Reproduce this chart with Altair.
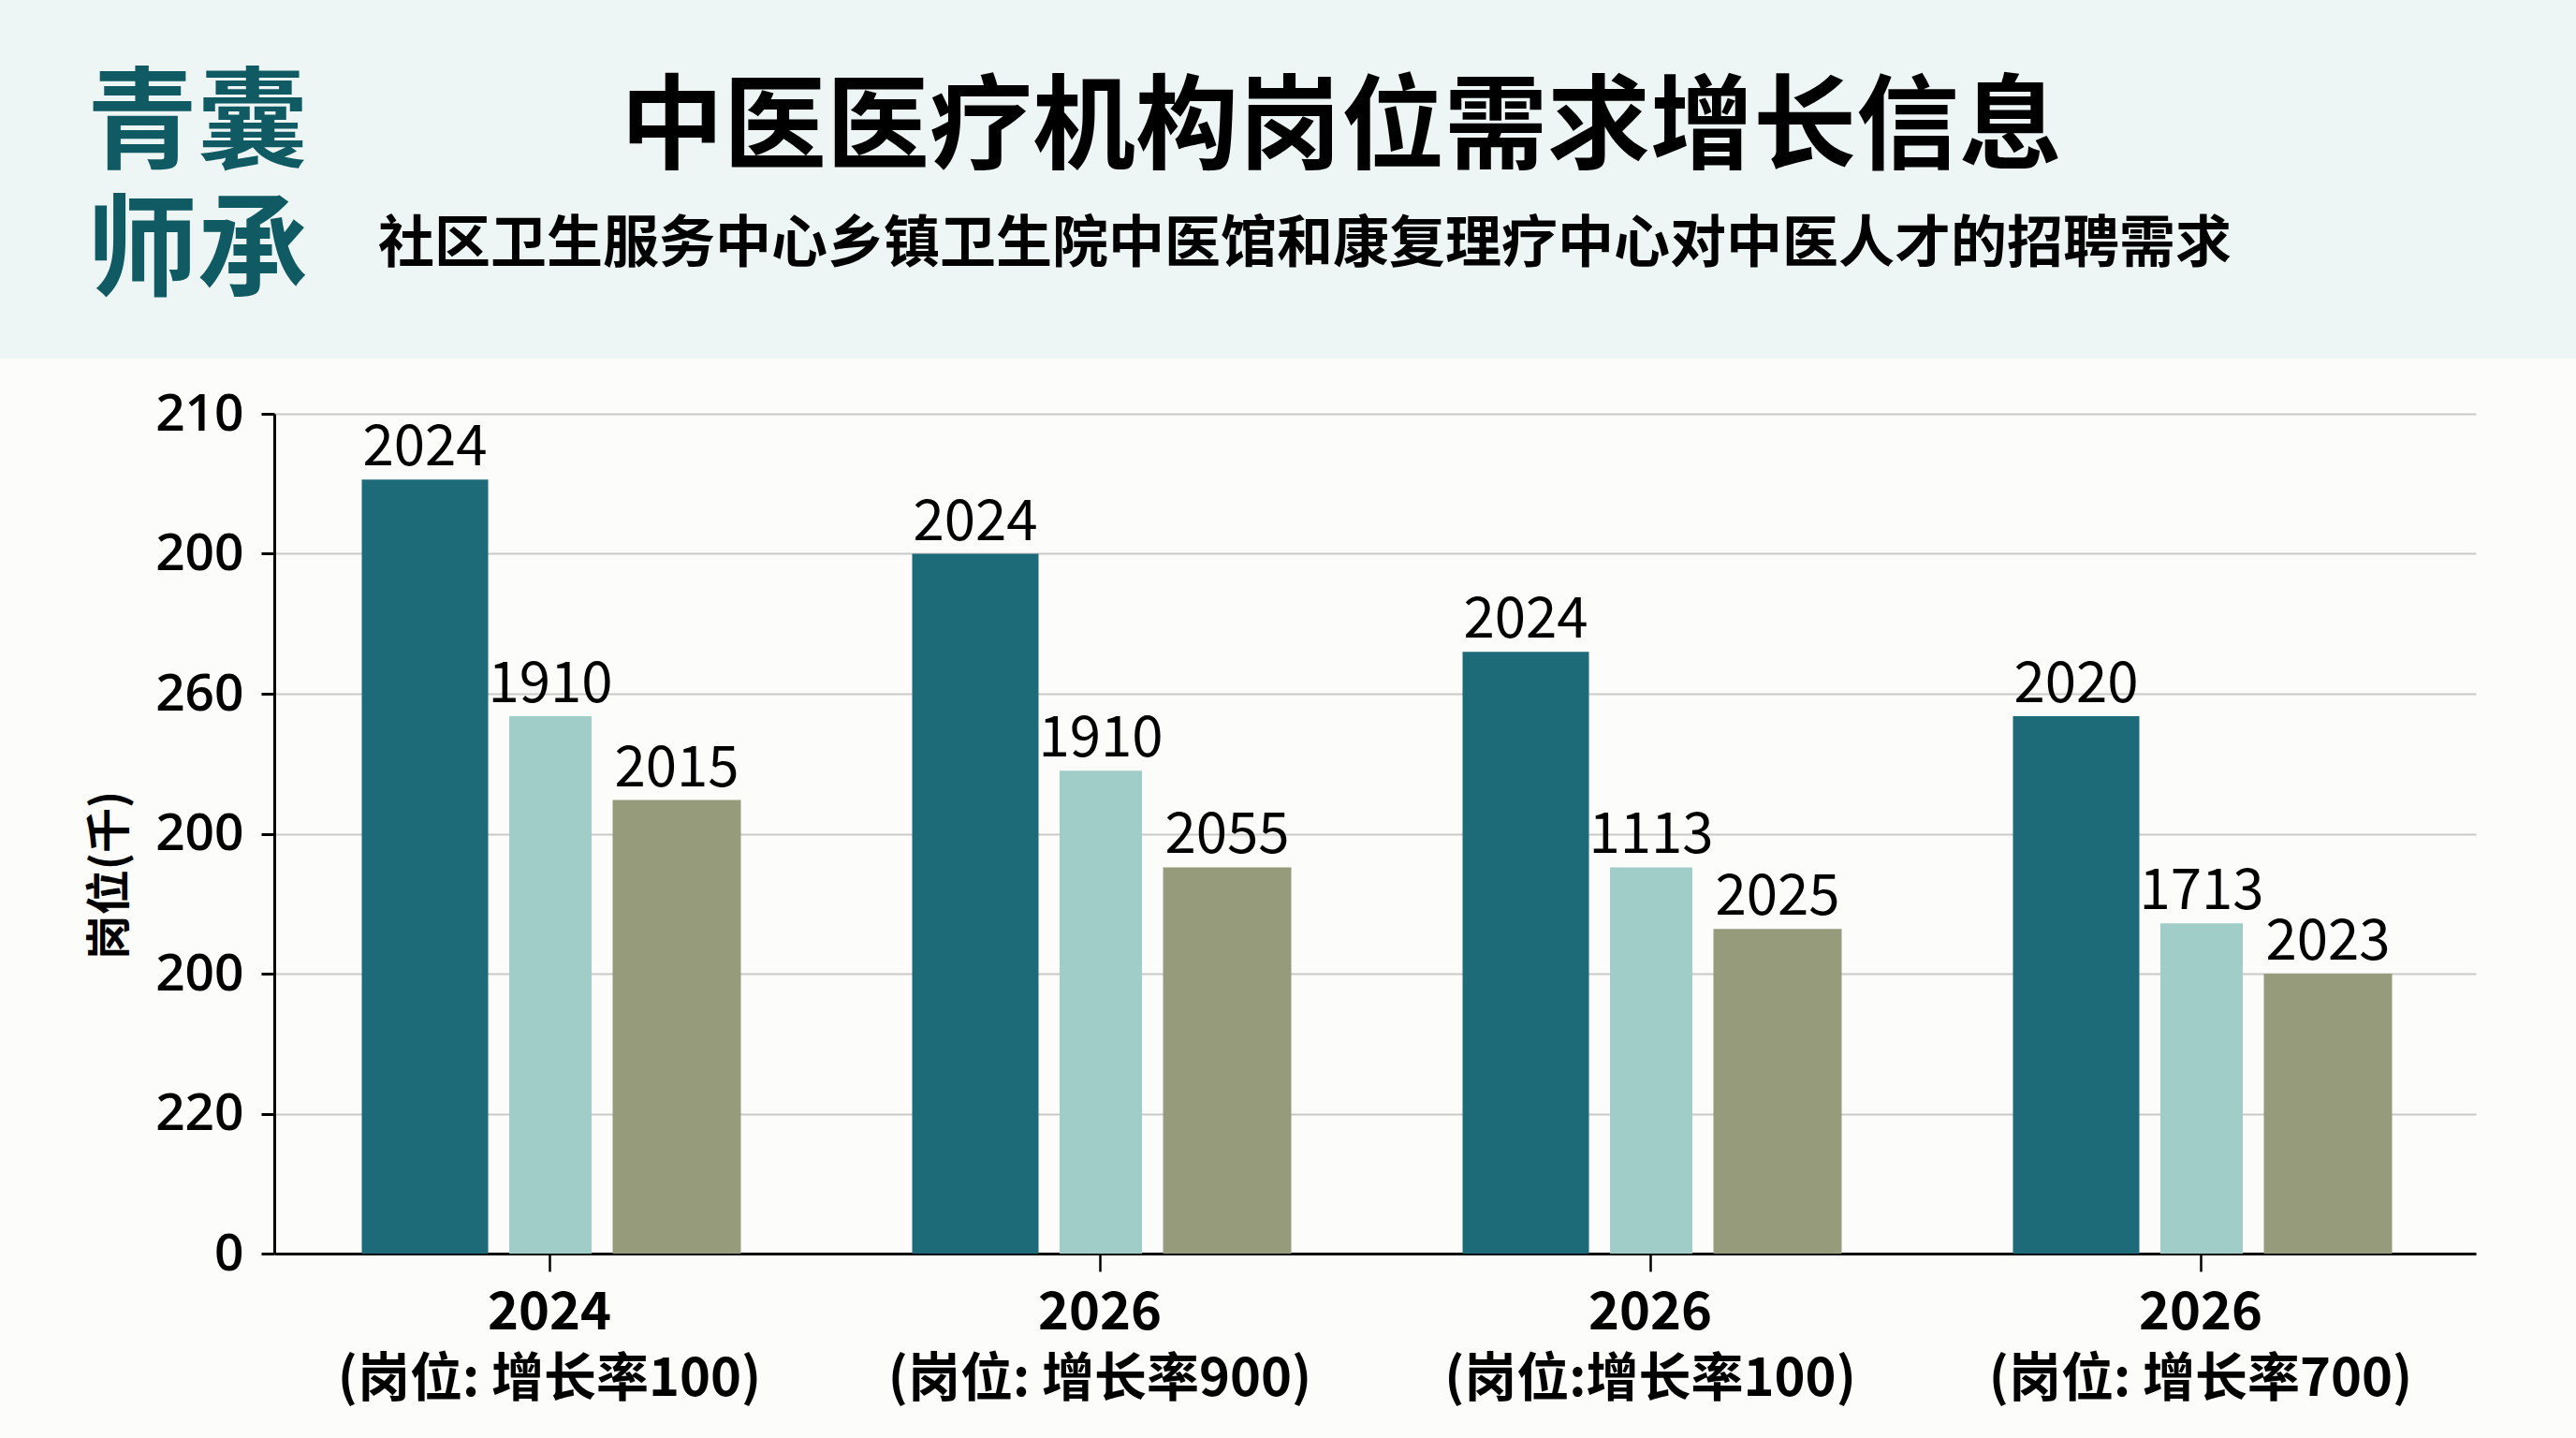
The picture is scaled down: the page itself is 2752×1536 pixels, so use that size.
import json
import altair as alt
import pandas as pd

# --- chart content -------------------------------------------------------
years = ["2024", "2026", "2026", "2026"]
notes = ["(岗位: 增长率100)", "(岗位:  增长率900)", "(岗位:增长率100)", "(岗位: 增长率700)"]
groups = [f"{y}\n{n}" for y, n in zip(years, notes)]
series = ["社区卫生服务中心", "乡镇卫生院", "中医馆"]

values_a = [5.53, 5.00, 4.30, 3.84]
values_b = [3.84, 3.45, 2.76, 2.36]
values_c = [3.24, 2.76, 2.32, 2.00]

labels_a = ["2024", "2024", "2024", "2020"]
labels_b = ["1910", "1910", "1113", "1713"]
labels_c = ["2015", "2055", "2025", "2023"]

y_ticks = [0, 1, 2, 3, 4, 5, 6]
y_tick_labels = ["0", "220", "200", "200", "260", "200", "210"]

title = "中医医疗机构岗位需求增长信息"
subtitle = "社区卫生服务中心乡镇卫生院中医馆和康复理疗中心对中医人才的招聘需求"
brand = ["青囊", "师承"]
y_title = "岗位(千)"

# --- layout --------------------------------------------------------------
W, H = 2752, 1536
LEFT, TOP = 293, 442
PW, PH = 2352, 897
HEADER_H = 383

colors = ["#1d6b78", "#a0cdc8", "#969b7c"]
bar_widths = [135, 88, 137]
bar_offsets = [-133, 1, 136]

CJK = "Noto Sans CJK SC"

rows = []
for s, vals, labs in zip(series, [values_a, values_b, values_c], [labels_a, labels_b, labels_c]):
    for g, v, l in zip(groups, vals, labs):
        rows.append({"group": g, "series": s, "value": v, "label": l})
df = pd.DataFrame(rows)
notes_df = pd.DataFrame({"group": groups, "note": notes})

one = pd.DataFrame({"k": [0]})

x_enc = alt.X(
    "group:N",
    sort=groups,
    scale=alt.Scale(domain=groups, paddingInner=0, paddingOuter=0),
    axis=alt.Axis(
        title=None,
        labelAngle=0,
        labelExpr="split(datum.label, '\\n')[0]",
        labelFont=CJK,
        labelFontWeight="bold",
        labelFontSize=56,
        labelColor="#000000",
        labelBaseline="alphabetic",
        labelPadding=61,
        labelLimit=800,
        labelOverlap=False,
        tickSize=19,
        tickWidth=2.5,
        tickColor="#000000",
        domainColor="#000000",
        domainWidth=3,
        grid=False,
    ),
)
y_enc = alt.Y(
    "value:Q",
    scale=alt.Scale(domain=[0, 6], nice=False, zero=True),
    axis=alt.Axis(
        title=None,
        values=y_ticks,
        labelExpr=json.dumps(y_tick_labels) + "[datum.value]",
        labelFont="Open Sans",
        labelFontWeight=600,
        labelFontSize=55,
        labelColor="#000000",
        labelPadding=19,
        tickSize=14,
        tickWidth=3,
        tickColor="#000000",
        domainColor="#000000",
        domainWidth=3,
        grid=True,
        gridColor="#c9c9c9",
        gridWidth=2,
    ),
)

base = alt.Chart(df).encode(x=x_enc, y=y_enc)

layers = []

# header band
layers.append(
    alt.Chart(one).mark_rect(color="#eef5f5").encode(
        x=alt.value(-LEFT), x2=alt.value(W - LEFT),
        y=alt.value(-TOP), y2=alt.value(HEADER_H - TOP),
    )
)

for s, c, w, o in zip(series, colors, bar_widths, bar_offsets):
    sub = base.transform_filter(alt.datum.series == s)
    layers.append(sub.mark_bar(color=c, width=w, xOffset=o))
    layers.append(
        sub.mark_text(
            xOffset=o, dy=-15, baseline="alphabetic", align="center",
            font=CJK, fontSize=60, color="#000000",
        ).encode(text="label:N")
    )

# second line of each category label
layers.append(
    alt.Chart(notes_df).mark_text(
        font=CJK, fontWeight="bold", fontSize=56, baseline="alphabetic",
        align="center", color="#000000",
    ).encode(x=x_enc, y=alt.value(PH + 19 + 61 + 72), text="note:N")
)

# headings
layers.append(
    alt.Chart(one).mark_text(
        text=title, font=CJK, fontWeight="bold", fontSize=110,
        align="center", baseline="middle", color="#000000",
    ).encode(x=alt.value(1433 - LEFT), y=alt.value(139 - TOP))
)
layers.append(
    alt.Chart(one).mark_text(
        text=subtitle, font=CJK, fontWeight="bold", fontSize=60,
        align="left", baseline="middle", color="#000000",
    ).encode(x=alt.value(404 - LEFT), y=alt.value(262 - TOP))
)
for line, cy in zip(brand, [136, 272]):
    layers.append(
        alt.Chart(one).mark_text(
            text=line, font=CJK, fontWeight="bold", fontSize=118,
            align="left", baseline="middle", color="#0f5a63",
        ).encode(x=alt.value(93 - LEFT), y=alt.value(cy - TOP))
    )

# y-axis title
layers.append(
    alt.Chart(one).mark_text(
        text=y_title, font=CJK, fontWeight="bold", fontSize=48, angle=270,
        align="center", baseline="middle", color="#000000",
    ).encode(x=alt.value(119 - LEFT), y=alt.value(935 - TOP))
)

chart = (
    alt.layer(*layers)
    .properties(
        width=PW,
        height=PH,
        autosize=alt.AutoSizeParams(type="none"),
        padding={"left": LEFT, "top": TOP, "right": W - LEFT - PW, "bottom": H - TOP - PH},
        background="#fcfcfa",
    )
    .configure_view(stroke=None)
)

chart.save("out.html", embed_options={"renderer": "svg", "actions": False})
